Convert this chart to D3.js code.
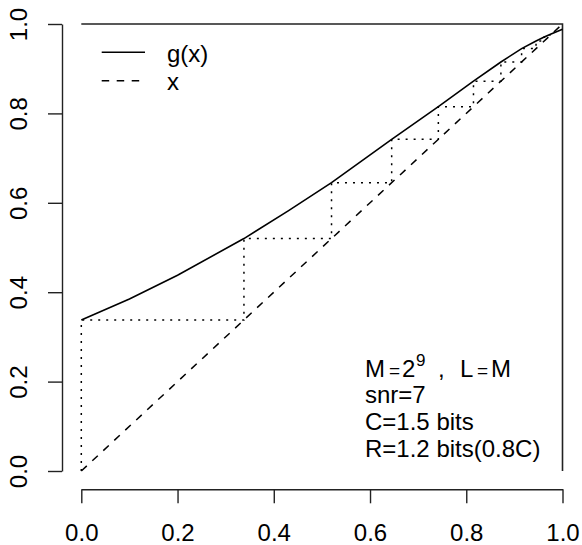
<!DOCTYPE html>
<html>
<head>
<meta charset="utf-8">
<script src="https://cdn.jsdelivr.net/npm/d3@7"></script>
<style>
  body { margin: 0; background: #fff; }
  text { font-family: "Liberation Sans", Arial, sans-serif; }
</style>
</head>
<body>
<div id="chart"></div>
<script>
// g(x)
const gx = [0, 0.1, 0.2, 0.338, 0.43, 0.52, 0.645, 0.742, 0.815, 0.872, 0.915, 0.945, 0.962, 0.975, 1.0];
const gy = [0.338, 0.385, 0.438, 0.52, 0.582, 0.645, 0.742, 0.815, 0.872, 0.915, 0.945, 0.962, 0.971, 0.977, 0.988];
// cobweb iterates x_{n+1} = g(x_n)
const iterates = [0, 0.338, 0.52, 0.645, 0.742, 0.815, 0.872, 0.915, 0.945, 0.962, 0.971, 0.975];
const ticks = [0, 0.2, 0.4, 0.6, 0.8, 1.0];
const legendLabels = ["g(x)", "x"];
const infoLines = ["snr=7", "C=1.5 bits", "R=1.2 bits(0.8C)"];

const width = 582, height = 545;
const font = 24;

const svg = d3.select("#chart")
    .append("svg")
    .attr("width", width)
    .attr("height", height);

const x = d3.scaleLinear().domain([0, 1]).range([81.3, 562.5]);
const y = d3.scaleLinear().domain([0, 1]).range([471, 24]);

const xAxis = d3.axisBottom(x)
    .tickValues(ticks)
    .tickFormat(d3.format(".1f"))
    .tickSize(14)
    .tickSizeOuter(0)
    .tickPadding(21);

const yAxis = d3.axisLeft(y)
    .tickValues(ticks)
    .tickFormat(d3.format(".1f"))
    .tickSize(14)
    .tickSizeOuter(0);

const gX = svg.append("g")
    .attr("transform", "translate(0,489.3)")
    .call(xAxis);

const gY = svg.append("g")
    .attr("transform", "translate(62,0)")
    .call(yAxis);

[gX, gY].forEach(g => {
    g.selectAll("path, line").attr("stroke", "#222").attr("stroke-width", 1.4);
    g.selectAll("text")
        .attr("font-size", font)
        .attr("font-family", "Liberation Sans, Arial, sans-serif")
        .attr("fill", "#000");
});

gY.selectAll("text")
    .attr("x", 0).attr("y", 0).attr("dy", 0)
    .attr("text-anchor", "middle")
    .attr("transform", "translate(-35,0) rotate(-90)");

// top and right border
svg.append("path")
    .attr("d", d3.line()([[x(0), y(1)], [x(1), y(1)], [x(1), y(0)]]))
    .attr("fill", "none")
    .attr("stroke", "#222")
    .attr("stroke-width", 1.6);

// identity line
svg.append("path")
    .attr("d", d3.line()([[x(0), y(0)], [x(1), y(1)]]))
    .attr("fill", "none")
    .attr("stroke", "#000")
    .attr("stroke-width", 1.5)
    .attr("stroke-dasharray", "7.5,7.5");

// g(x)
svg.append("path")
    .datum(gx.map((d, i) => [d, gy[i]]))
    .attr("d", d3.line().x(d => x(d[0])).y(d => y(d[1])))
    .attr("fill", "none")
    .attr("stroke", "#000")
    .attr("stroke-width", 1.6);

// cobweb
const web = [[iterates[0], 0]];
for (let i = 0; i < iterates.length - 1; i++) {
    web.push([iterates[i], iterates[i + 1]]);
    web.push([iterates[i + 1], iterates[i + 1]]);
}
svg.append("path")
    .datum(web)
    .attr("d", d3.line().x(d => x(d[0])).y(d => y(d[1])))
    .attr("fill", "none")
    .attr("stroke", "#000")
    .attr("stroke-width", 1.5)
    .attr("stroke-dasharray", "2,6");

// legend
const legend = svg.append("g");
const legendY = [52.3, 80.7];
const legendDash = [null, "7.5,7.5"];
legendLabels.forEach((lab, i) => {
    legend.append("line")
        .attr("x1", 101.7).attr("x2", 145)
        .attr("y1", legendY[i]).attr("y2", legendY[i])
        .attr("stroke", "#000")
        .attr("stroke-width", 1.5)
        .attr("stroke-dasharray", legendDash[i]);
    legend.append("text")
        .attr("x", 167)
        .attr("y", legendY[i] + 9.5)
        .attr("font-size", font)
        .text(lab);
});

// annotation: M = 2^9 , L = M
const note = svg.append("text")
    .attr("y", 376.7)
    .attr("font-size", font);
const parts = [
    { t: "M", x: 365 },
    { t: "=", x: 389, size: 19 },
    { t: "2", x: 402 },
    { t: "9", x: 416, size: 17, sup: true },
    { t: ",", x: 438 },
    { t: "L", x: 460 },
    { t: "=", x: 477, size: 19 },
    { t: "M", x: 491 }
];
parts.forEach(p => {
    note.append("tspan")
        .attr("x", p.x)
        .attr("y", p.sup ? 366 : 376.7)
        .attr("font-size", p.size || font)
        .text(p.t);
});

infoLines.forEach((t, i) => {
    svg.append("text")
        .attr("x", 365)
        .attr("y", 403.3 + i * 26.8)
        .attr("font-size", font)
        .text(t);
});
</script>
</body>
</html>
